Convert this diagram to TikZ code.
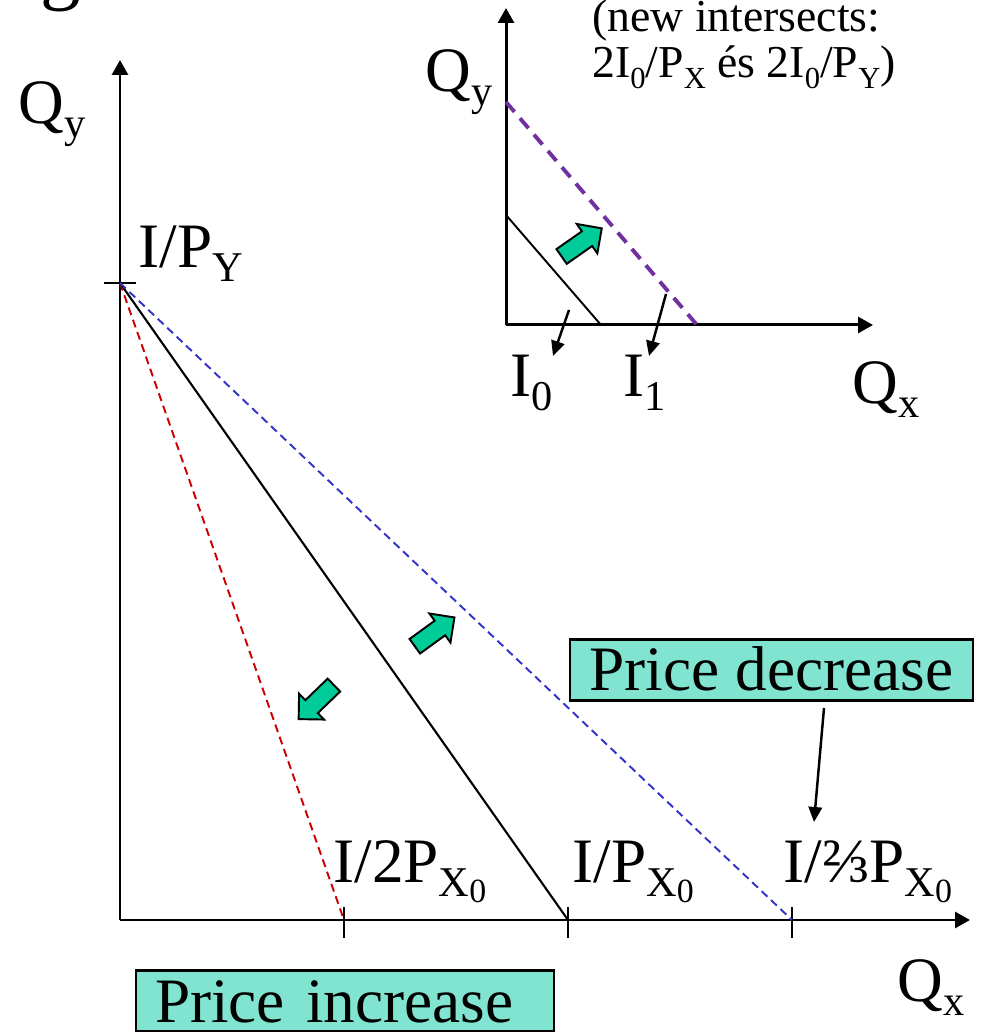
\documentclass[tikz,border=0pt]{standalone}
\usepackage{fontspec}
\setmainfont{Liberation Serif}
\usetikzlibrary{arrows.meta,shapes.arrows}
\definecolor{bcfill}{RGB}{128,228,208}
\definecolor{bcgreen}{RGB}{0,204,153}
\definecolor{bcred}{RGB}{204,0,0}
\definecolor{bcblue}{RGB}{51,51,204}
\definecolor{bcpurple}{RGB}{112,48,160}
\makeatletter
\newcommand\lo[1]{\raisebox{-0.22em}{\fontsize{\fpeval{0.67*\f@size}}{0}\selectfont#1}}
\newcommand\lolo[1]{\raisebox{-0.12em}{\fontsize{\fpeval{0.8*\f@size}}{0}\selectfont#1}}
\makeatother
\tikzset{
  axis/.style={line width=1.7pt, -{Triangle[length=0.3cm,width=0.32cm]}},
  tick/.style={line width=1.1pt},
  pointer/.style={line width=1.4pt, -{Triangle[length=0.3cm,width=0.27cm]}},
  lbl/.style={font=\fontsize{36}{40}\selectfont, inner sep=0pt, anchor=base west},
  tagbox/.style={draw, line width=1.2pt, fill=bcfill, font=\fontsize{36}{40}\selectfont,
    inner ysep=0pt, minimum height=1.22cm, text height=0.84cm, text depth=0pt},
  shiftarrow/.style={single arrow, draw, line width=1.1pt, fill=bcgreen, inner sep=0.16cm,
    single arrow head extend=0.18cm, minimum height=0.98cm}
}
\begin{document}
\begin{tikzpicture}
  \clip (0,0) rectangle (19.8,20.64);
  % cut-off title letter
  \node[inner sep=0pt, anchor=base west, font=\fontsize{46}{50}\selectfont] (ttl) at (0.8,20.74) {g};

  %% Main diagram
  \coordinate (o)    at (2.4,2.24);
  \coordinate (ytop) at (2.4,19.44);
  \coordinate (xend) at (19.4,2.24);
  \coordinate (iy)   at (2.4,14.98);
  \coordinate (ix2)  at (6.88,2.24);
  \coordinate (ix1)  at (11.36,2.24);
  \coordinate (ix23) at (15.84,2.24);
  \draw[axis] (o) -- (ytop);
  \draw[axis] (o) -- (xend);
  \draw[tick] ([xshift=-0.32cm]iy) -- ([xshift=0.32cm]iy);
  \foreach \t in {ix2,ix1,ix23}
    \draw[tick] ([yshift=0.26cm]\t) -- ([yshift=-0.36cm]\t);
  \draw[bcred, line width=1.1pt, dash pattern=on 0.16cm off 0.1cm] (iy) -- (ix2);
  \draw[line width=1.2pt] (iy) -- (ix1);
  \draw[bcblue, line width=1.1pt, dash pattern=on 0.16cm off 0.1cm] (iy) -- (ix23);

  \node[lbl] (qy)   at (0.36,18.16) {Q\lo{y}};
  \node[lbl] (ipy)  at (2.76,15.28) {I/P\lo{Y}};
  \node[lbl] (ipx2) at (6.66,2.98)  {I/2P\lo{X\lolo{0}}};
  \node[lbl] (ipx1) at (11.44,2.98) {I/P\lo{X\lolo{0}}};
  \node[lbl] (ipx23) at (15.66,2.98) {I/⅔P\lo{X\lolo{0}}};
  \node[lbl] (qx)   at (17.94,0.6)  {Q\lo{x}};

  \node[shiftarrow, rotate=36]  (outarr) at (8.62,7.95) {};
  \node[shiftarrow, rotate=224] (inarr)  at (6.39,6.66) {};

  \node[tagbox, minimum width=8.06cm] (pdec) at (15.43,7.24) {Price decrease};
  \node[tagbox, inner xsep=0.38cm, text width=7.6cm, align=left] (pinc) at (6.9,0.62) {Price increase};
  \coordinate (pdecfoot) at (16.48,6.48);
  \coordinate (pdectip)  at (16.28,4.2);
  \draw[pointer] (pdecfoot) -- (pdectip);

  %% Inset: income change
  \coordinate (so)    at (10.12,14.14);
  \coordinate (sytop) at (10.12,20.48);
  \coordinate (sxend) at (17.46,14.14);
  \draw[axis] (so) -- (sytop);
  \draw[axis] (so) -- (sxend);
  \draw[line width=1.1pt] (10.12,16.34) -- (12.02,14.14);
  \draw[bcpurple, line width=2.2pt, dash pattern=on 0.26cm off 0.17cm] (10.12,18.6) -- (13.94,14.14);
  \node[shiftarrow, rotate=35] (incarr) at (11.56,15.74) {};

  \node[lbl] (sqy) at (8.5,18.8)   {Q\lo{y}};
  \node[lbl] (sqx) at (17.04,12.56) {Q\lo{x}};
  \node[lbl] (i0)  at (10.2,12.7)  {I\lo{0}};
  \node[lbl] (i1)  at (12.46,12.7) {I\lo{1}};
  \coordinate (i0foot) at (11.38,14.44);
  \coordinate (i1foot) at (13.32,14.76);
  \draw[pointer] (i0foot) -- (11.06,13.52);
  \draw[pointer] (i1foot) -- (12.98,13.52);

  \node[inner sep=0pt, anchor=base west, align=left, font=\fontsize{26}{26.2}\selectfont] (newint)
    at (11.84,19.08) {(new intersects:\\2I\lo{0}/P\lo{X} és 2I\lo{0}/P\lo{Y})};
\end{tikzpicture}
\end{document}
